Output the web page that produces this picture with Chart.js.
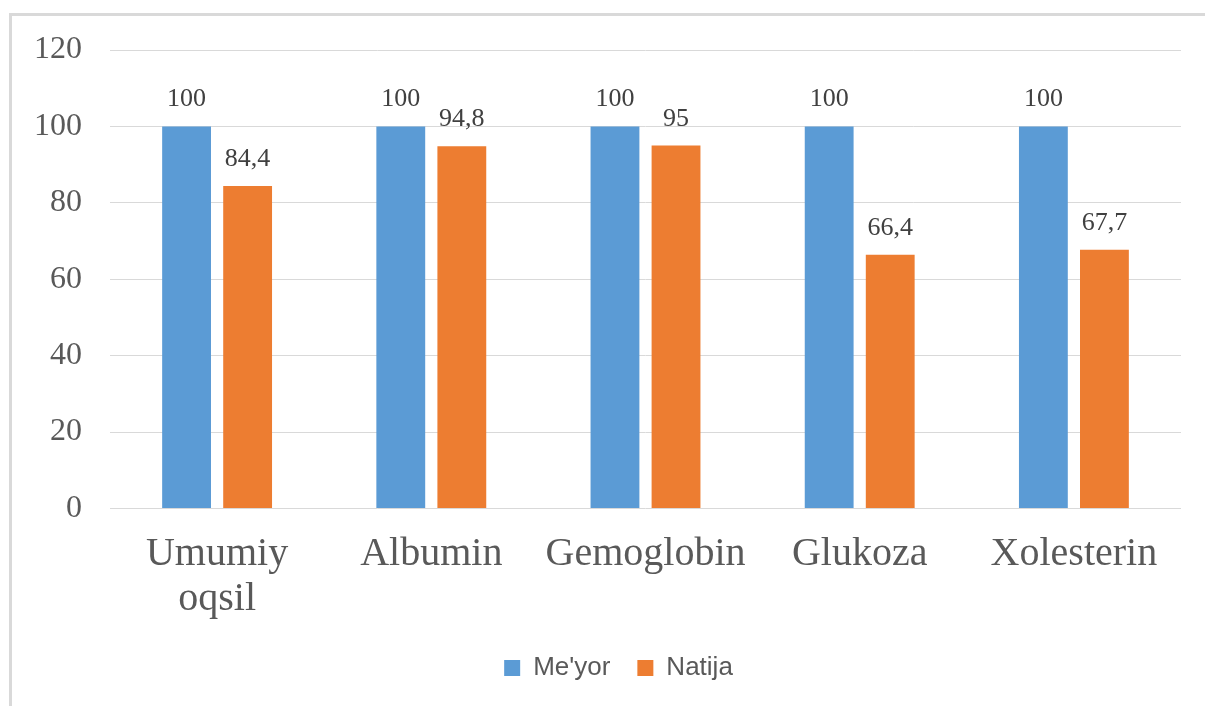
<!DOCTYPE html>
<html>
<head>
<meta charset="utf-8">
<script src="https://cdn.jsdelivr.net/npm/chart.js@4"></script>
<style>
  html, body { margin: 0; padding: 0; background: #fff; }
  #wrap { position: relative; width: 1205px; height: 706px; overflow: hidden; }
  #frame { position: absolute; left: 9px; top: 13px; width: 1300px; height: 800px;
           border-left: 3px solid #d9d9d9; border-top: 3px solid #d9d9d9; pointer-events: none; }
  canvas { position: absolute; left: 0; top: 0; }
</style>
</head>
<body>
<div id="wrap">
  <canvas id="c" width="1205" height="706"></canvas>
  <div id="frame"></div>
</div>
<script>
const categories = [['Umumiy', 'oqsil'], 'Albumin', 'Gemoglobin', 'Glukoza', 'Xolesterin'];
const seriesNames = ["Me'yor", 'Natija'];
const meyorValues = [100, 100, 100, 100, 100];
const natijaValues = [84.4, 94.8, 95, 66.4, 67.7];
const yTicks = [0, 20, 40, 60, 80, 100, 120];

const labelPlugin = {
  id: 'barValueLabels',
  afterLayout(chart) {
    if (chart.legend) { chart.legend.left += 25; chart.legend.right += 25; }
  },
  afterDatasetsDraw(chart) {
    const ctx = chart.ctx;
    ctx.save();
    ctx.font = '26px "Liberation Serif", "Times New Roman", serif';
    ctx.fillStyle = '#404040';
    ctx.textAlign = 'center';
    ctx.textBaseline = 'alphabetic';
    chart.data.datasets.forEach((ds, di) => {
      const meta = chart.getDatasetMeta(di);
      meta.data.forEach((bar, i) => {
        const txt = String(ds.data[i]).replace('.', ',');
        ctx.fillText(txt, bar.x, bar.y - 20);
      });
    });
    ctx.restore();
  }
};

new Chart(document.getElementById('c'), {
  type: 'bar',
  data: {
    labels: categories,
    datasets: [
      { label: seriesNames[0], data: meyorValues, backgroundColor: '#5B9BD5',
        categoryPercentage: 0.57, barPercentage: 0.8 },
      { label: seriesNames[1], data: natijaValues, backgroundColor: '#ED7D31',
        categoryPercentage: 0.57, barPercentage: 0.8 }
    ]
  },
  options: {
    responsive: false,
    animation: false,
    devicePixelRatio: 1,
    layout: { padding: { left: 6, right: 24, top: 50, bottom: 15 } },
    plugins: {
      tooltip: { enabled: false },
      legend: {
        position: 'bottom',
        labels: {
          boxWidth: 16, boxHeight: 16, padding: 27,
          color: '#595959',
          font: { family: '"Liberation Sans", Arial, sans-serif', size: 26 }
        }
      }
    },
    scales: {
      x: {
        grid: { display: false },
        border: { display: false },
        afterFit(axis) { axis.height -= 10; },
        ticks: {
          color: '#595959',
          padding: 16,
          maxRotation: 0,
          font: { family: '"Liberation Serif", "Times New Roman", serif', size: 40, lineHeight: 1.12 }
        }
      },
      y: {
        min: 0, max: 120,
        afterBuildTicks(axis) { axis.ticks = yTicks.map(v => ({ value: v })); },
        grid: { color: '#d9d9d9', lineWidth: 1, drawTicks: false },
        border: { display: false },
        ticks: {
          color: '#595959',
          padding: 28,
          font: { family: '"Liberation Serif", "Times New Roman", serif', size: 32 }
        }
      }
    }
  },
  plugins: [labelPlugin]
});
</script>
</body>
</html>
